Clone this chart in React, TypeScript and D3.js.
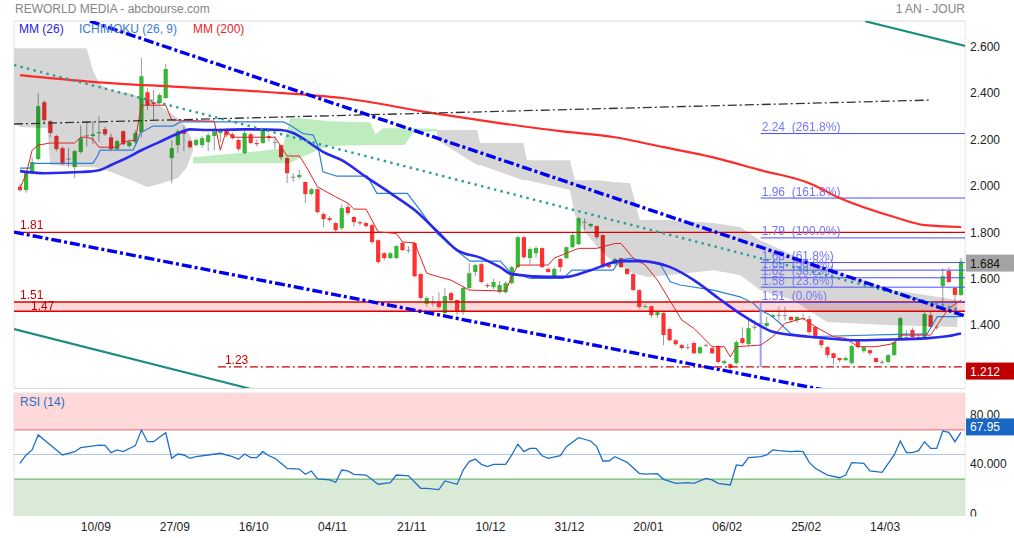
import React from "react";
import * as d3 from "d3";

const W = 1014;
const H = 538;
const PL = 14;
const PR = 965;
const PT = 21;
const PB = 388;
const RT = 393;
const RB = 516;

// daily candles: [open, high, low, close]
const ohlc: [number, number, number, number][] = [
  [2.006, 2.02, 1.985, 1.992], [1.992, 2.07, 1.98, 2.065], [2.07, 2.134, 2.06, 2.113], [2.126, 2.41, 2.12, 2.354],
  [2.371, 2.38, 2.28, 2.294], [2.289, 2.295, 2.22, 2.238], [2.225, 2.23, 2.16, 2.169], [2.173, 2.18, 2.1, 2.104],
  [2.128, 2.175, 2.09, 2.125], [2.091, 2.165, 2.044, 2.16], [2.156, 2.27, 2.15, 2.216], [2.229, 2.29, 2.18, 2.227],
  [2.225, 2.29, 2.19, 2.233], [2.238, 2.31, 2.2, 2.242], [2.255, 2.265, 2.225, 2.233], [2.22, 2.235, 2.16, 2.169],
  [2.169, 2.21, 2.165, 2.203], [2.246, 2.25, 2.185, 2.19], [2.182, 2.21, 2.175, 2.199], [2.199, 2.25, 2.19, 2.238],
  [2.242, 2.561, 2.22, 2.483], [2.414, 2.43, 2.337, 2.358], [2.371, 2.423, 2.294, 2.363], [2.367, 2.41, 2.36, 2.402],
  [2.389, 2.535, 2.385, 2.514], [2.13, 2.208, 2.022, 2.173], [2.186, 2.255, 2.152, 2.246], [2.25, 2.27, 2.16, 2.235],
  [2.203, 2.21, 2.17, 2.177], [2.186, 2.215, 2.18, 2.208], [2.186, 2.225, 2.175, 2.216], [2.199, 2.24, 2.16, 2.229],
  [2.225, 2.26, 2.164, 2.245], [2.238, 2.26, 2.2, 2.251], [2.251, 2.26, 2.22, 2.229], [2.233, 2.24, 2.21, 2.216],
  [2.208, 2.215, 2.16, 2.169], [2.152, 2.25, 2.145, 2.238], [2.233, 2.24, 2.19, 2.195], [2.195, 2.21, 2.18, 2.19],
  [2.195, 2.26, 2.19, 2.251], [2.225, 2.235, 2.2, 2.216], [2.2, 2.225, 2.17, 2.198], [2.186, 2.19, 2.12, 2.134],
  [2.13, 2.135, 2.022, 2.065], [2.05, 2.065, 2.027, 2.048], [2.048, 2.08, 2.04, 2.057], [2.027, 2.03, 1.936, 1.975],
  [1.975, 2.0, 1.97, 1.996], [1.996, 2.0, 1.89, 1.897], [1.889, 1.895, 1.833, 1.867], [1.871, 1.88, 1.855, 1.863],
  [1.85, 1.855, 1.81, 1.82], [1.828, 1.93, 1.82, 1.914], [1.919, 1.936, 1.885, 1.893], [1.876, 1.88, 1.835, 1.854],
  [1.854, 1.86, 1.84, 1.85], [1.85, 1.855, 1.83, 1.837], [1.841, 1.846, 1.76, 1.768], [1.776, 1.78, 1.675, 1.682],
  [1.72, 1.725, 1.69, 1.699], [1.699, 1.725, 1.695, 1.72], [1.699, 1.755, 1.695, 1.751], [1.764, 1.77, 1.73, 1.733],
  [1.735, 1.75, 1.72, 1.733], [1.764, 1.77, 1.615, 1.621], [1.63, 1.635, 1.52, 1.527], [1.501, 1.535, 1.49, 1.527],
  [1.509, 1.535, 1.49, 1.505], [1.509, 1.552, 1.48, 1.488], [1.462, 1.57, 1.455, 1.535], [1.548, 1.555, 1.51, 1.518],
  [1.518, 1.52, 1.455, 1.466], [1.466, 1.575, 1.455, 1.57], [1.57, 1.677, 1.565, 1.634], [1.639, 1.675, 1.62, 1.669],
  [1.673, 1.68, 1.59, 1.596], [1.583, 1.59, 1.57, 1.578], [1.574, 1.61, 1.565, 1.596], [1.552, 1.6, 1.545, 1.583],
  [1.552, 1.6, 1.545, 1.591], [1.591, 1.665, 1.585, 1.66], [1.66, 1.795, 1.655, 1.789], [1.789, 1.795, 1.695, 1.703],
  [1.699, 1.745, 1.67, 1.738], [1.72, 1.75, 1.7, 1.742], [1.742, 1.745, 1.655, 1.66], [1.652, 1.66, 1.635, 1.639],
  [1.621, 1.66, 1.615, 1.652], [1.695, 1.7, 1.64, 1.66], [1.699, 1.75, 1.695, 1.746], [1.746, 1.81, 1.74, 1.798],
  [1.759, 1.876, 1.755, 1.871], [1.856, 1.87, 1.82, 1.854], [1.837, 1.85, 1.83, 1.846], [1.837, 1.84, 1.78, 1.789],
  [1.798, 1.8, 1.655, 1.66], [1.669, 1.675, 1.655, 1.66], [1.673, 1.7, 1.665, 1.695], [1.699, 1.7, 1.655, 1.66],
  [1.652, 1.655, 1.625, 1.63], [1.63, 1.635, 1.555, 1.561], [1.561, 1.565, 1.48, 1.488], [1.488, 1.5, 1.485, 1.492],
  [1.492, 1.495, 1.44, 1.453], [1.453, 1.47, 1.44, 1.466], [1.462, 1.465, 1.324, 1.367], [1.393, 1.4, 1.34, 1.345],
  [1.345, 1.35, 1.32, 1.328], [1.324, 1.33, 1.305, 1.311], [1.316, 1.33, 1.305, 1.315], [1.333, 1.34, 1.285, 1.289],
  [1.289, 1.32, 1.285, 1.315], [1.325, 1.33, 1.315, 1.323], [1.311, 1.32, 1.285, 1.289], [1.32, 1.325, 1.245, 1.251],
  [1.246, 1.26, 1.24, 1.255], [1.242, 1.245, 1.212, 1.225], [1.246, 1.345, 1.24, 1.337], [1.354, 1.4, 1.325, 1.333],
  [1.328, 1.44, 1.32, 1.397], [1.403, 1.43, 1.39, 1.401], [1.42, 1.44, 1.41, 1.418], [1.406, 1.445, 1.4, 1.419],
  [1.445, 1.46, 1.44, 1.453], [1.455, 1.49, 1.43, 1.453], [1.454, 1.49, 1.43, 1.452], [1.445, 1.45, 1.42, 1.432],
  [1.432, 1.45, 1.42, 1.445], [1.441, 1.46, 1.43, 1.44], [1.436, 1.45, 1.37, 1.38], [1.402, 1.405, 1.35, 1.358],
  [1.345, 1.35, 1.31, 1.324], [1.315, 1.32, 1.27, 1.281], [1.289, 1.29, 1.24, 1.268], [1.268, 1.27, 1.25, 1.259],
  [1.259, 1.275, 1.255, 1.268], [1.246, 1.325, 1.24, 1.32], [1.341, 1.345, 1.31, 1.315], [1.298, 1.32, 1.29, 1.315],
  [1.302, 1.305, 1.28, 1.289], [1.268, 1.27, 1.245, 1.251], [1.252, 1.26, 1.24, 1.251], [1.251, 1.285, 1.245, 1.281],
  [1.281, 1.34, 1.275, 1.337], [1.354, 1.445, 1.35, 1.44], [1.359, 1.39, 1.35, 1.358], [1.389, 1.4, 1.35, 1.358],
  [1.359, 1.37, 1.345, 1.357], [1.358, 1.47, 1.35, 1.458], [1.453, 1.47, 1.395, 1.402], [1.403, 1.41, 1.39, 1.4],
  [1.578, 1.655, 1.49, 1.621], [1.643, 1.66, 1.59, 1.596], [1.57, 1.575, 1.51, 1.54], [1.54, 1.7, 1.535, 1.684],
];

const dateTicks: [number, string][] = [
  [12.5, "10/09"], [25.5, "27/09"], [38.5, "16/10"], [51.5, "04/11"], [64.5, "21/11"], [77.5, "10/12"],
  [90.5, "31/12"], [103.5, "20/01"], [116.5, "06/02"], [129.5, "25/02"], [142.5, "14/03"],
];
const priceTicks = [1.4, 1.6, 1.8, 2.0, 2.2, 2.4, 2.6];
const rsiTicks: [number, string][] = [[80, "80.00"], [40, "40.000"], [0, "0"]];

// indicator lines, [candle index, value]
const mm26: [number, number][] = [
  [0, 2.074], [4, 2.065], [10, 2.07], [13, 2.078], [15, 2.1], [18, 2.136], [20, 2.164], [23, 2.2], [26, 2.236],
  [28, 2.254], [31, 2.251], [37, 2.254], [43, 2.251], [45, 2.238], [47, 2.208], [50, 2.156], [53, 2.121],
  [57, 2.049], [61, 1.979], [65, 1.906], [69, 1.807], [72, 1.733], [76, 1.699], [79, 1.661], [81, 1.63],
  [87, 1.618], [90, 1.618], [94, 1.647], [99, 1.686], [102, 1.686], [107, 1.661], [111, 1.604], [115, 1.527],
  [119, 1.453], [122, 1.406], [124, 1.381], [130, 1.36], [138, 1.345], [144, 1.348], [149, 1.353], [153, 1.363],
  [155, 1.374],
];
const mm200: [number, number][] = [
  [0, 2.488], [12, 2.459], [26, 2.437], [40, 2.416], [53, 2.389], [68, 2.324], [79, 2.281], [89, 2.246],
  [98, 2.22], [106, 2.177], [114, 2.134], [122, 2.078], [130, 2.022], [135, 1.958], [144, 1.876], [149, 1.841],
  [155, 1.833],
];
const tenkan: [number, number][] = [
  [0, 2.001], [1, 2.06], [2, 2.164], [3, 2.186], [5, 2.195], [9, 2.195], [10, 2.22], [11, 2.22], [12, 2.212],
  [13, 2.177], [16, 2.177], [17, 2.2], [19, 2.208], [20, 2.358], [24, 2.358], [25, 2.294], [32, 2.289],
  [33, 2.164], [34, 2.251], [35, 2.22], [42, 2.22], [43, 2.179], [44, 2.139], [46, 2.139], [47, 2.1], [49, 2.006],
  [52, 1.963], [54, 1.936], [55, 1.91], [57, 1.91], [59, 1.812], [62, 1.805], [63, 1.769], [65, 1.764],
  [67, 1.634], [69, 1.618], [71, 1.604], [74, 1.561], [80, 1.557], [81, 1.618], [82, 1.669], [87, 1.669],
  [88, 1.699], [92, 1.741], [95, 1.741], [98, 1.762], [99, 1.762], [101, 1.699], [103, 1.669], [105, 1.604],
  [107, 1.518], [109, 1.432], [111, 1.396], [114, 1.317], [116, 1.317], [117, 1.273], [118, 1.317], [122, 1.324],
  [124, 1.36], [126, 1.418], [129, 1.439], [131, 1.403], [134, 1.36], [136, 1.353], [138, 1.317], [141, 1.317],
  [144, 1.331], [145, 1.367], [150, 1.367], [152, 1.446], [153, 1.482], [155, 1.518],
];
const kijun: [number, number][] = [
  [0, 2.087], [1.6, 2.087], [2.1, 2.107], [12, 2.107], [12.7, 2.136], [13.2, 2.164], [18.6, 2.164], [19.3, 2.2],
  [19.8, 2.238], [21.9, 2.268], [25.2, 2.268], [26.4, 2.286], [43.4, 2.286], [44.5, 2.272], [46.6, 2.236],
  [48.3, 2.229], [49.1, 2.179], [49.9, 2.071], [52.2, 2.052], [57.2, 2.052], [58.8, 1.978], [63.8, 1.978],
  [65.9, 1.906], [68.7, 1.805], [72.5, 1.719], [74.1, 1.686], [79.1, 1.686], [80.7, 1.64], [84, 1.611],
  [89.5, 1.611], [90.9, 1.647], [97.7, 1.647], [98.8, 1.69], [100.5, 1.698], [105.4, 1.677], [107.1, 1.597],
  [108.7, 1.583], [114.2, 1.561], [118.6, 1.532], [120.8, 1.504], [121.9, 1.475], [123.6, 1.453], [125.2, 1.418],
  [126.9, 1.374], [129.7, 1.36], [146.1, 1.371], [149.4, 1.371], [151.1, 1.447], [155, 1.447],
];

// ichimoku cloud, [candle index, upper span, lower span]
const cloudBear1: [number, number, number][] = [
  [-1, 2.604, 2.285], [0, 2.604, 2.264], [4.5, 2.604, 2.259], [5, 2.604, 2.1], [11, 2.604, 2.091],
  [12, 2.509, 2.091], [13, 2.453, 2.087], [15, 2.423, 2.07], [18, 2.41, 2.039], [21, 2.38, 2.005],
  [23, 2.358, 2.018], [24, 2.337, 2.027], [26, 2.302, 2.044], [27.5, 2.259, 2.091], [28.5, 2.195, 2.164],
];
const cloudBull: [number, number, number][] = [
  [28.5, 2.134, 2.108], [38, 2.156, 2.108], [43.2, 2.173, 2.108], [44.5, 2.302, 2.108], [46, 2.302, 2.13],
  [49, 2.294, 2.164], [51, 2.289, 2.182], [57.7, 2.285, 2.186], [58.5, 2.233, 2.186], [59.8, 2.259, 2.186],
  [63.4, 2.259, 2.186], [64.7, 2.259, 2.238], [68.7, 2.255, 2.246],
];
const cloudBear2: [number, number, number][] = [
  [68.7, 2.251, 2.208], [75.3, 2.251, 2.1], [75.8, 2.195, 2.1], [82.9, 2.195, 2.035], [83.5, 2.121, 2.035],
  [90.6, 2.121, 1.992], [91.4, 2.035, 1.884], [92.8, 2.035, 1.82], [95.1, 2.035, 1.746], [97.7, 2.027, 1.682],
  [100.5, 2.022, 1.639], [102.1, 1.863, 1.626], [103.3, 1.863, 1.617], [107.1, 1.863, 1.626], [114.2, 1.85, 1.647],
  [118.6, 1.833, 1.626], [121.9, 1.776, 1.561], [127.3, 1.712, 1.518], [132.9, 1.656, 1.423], [143.8, 1.561, 1.41],
  [154.4, 1.518, 1.402],
];

// drawn lines, two anchors each: [index, price]
const channelHigh: [number, number][] = [[11.53, 2.72], [155.7, 1.449]];
const channelLow: [number, number][] = [[-0.99, 1.811], [132.95, 1.128]];
const dottedTrend: [number, number][] = [[-0.99, 2.531], [154.9, 1.475]];
const tealTop: [number, number][] = [[139.2, 2.72], [155.7, 2.613]];
const tealBottom: [number, number][] = [[-0.99, 1.393], [37.9, 1.136]];
const blackTrend: [number, number][] = [[-0.99, 2.277], [149.9, 2.38]];

const resistance = 1.81;
const zone = [1.47, 1.51];
const support = 1.23;
const supportStart = 32.6;

const fibStart = 122;
const fibLow = 1.508;
const fibHigh = 1.786;
const fibRatios: [number, string][] = [
  [2.618, "2.24  (261.8%)"], [1.618, "1.96  (161.8%)"], [1, "1.79  (100.0%)"], [0.618, "1.68  (61.8%)"],
  [0.5, "1.65  (50.0%)"], [0.382, "1.62  (38.2%)"], [0.236, "1.58  (23.6%)"], [0, "1.51  (0.0%)"],
];

const rsi14: [number, number][] = [
  [0, 42.8], [1, 49.6], [2, 53.7], [3, 65.9], [5, 57.7], [7, 49.6], [9, 52.3], [10, 55.6], [13, 57.7], [14, 57.5],
  [15, 51.5], [16, 53.7], [17, 52.3], [19, 57.2], [20, 69.9], [21, 60.4], [22, 60.4], [24, 67.7], [25, 46.9],
  [26, 50.4], [27, 49.6], [28, 46.9], [29, 48.2], [31, 49.6], [33, 51], [35, 48.2], [36, 46.1], [37, 50.4],
  [38, 47.5], [39, 47.5], [40, 52.3], [41, 49], [42, 46.9], [44, 38.8], [46, 38.2], [47, 33.9], [48, 36.6],
  [49, 30.1], [51, 29.3], [52, 27.4], [53, 37.4], [54, 36.6], [55, 33.9], [57, 33.3], [59, 25.8], [61, 27.1],
  [62, 33.3], [64, 32.7], [66, 22.5], [67, 22.5], [69, 21.4], [70, 28.5], [72, 25.8], [73, 37.4], [74, 44.2],
  [75, 46.3], [76, 42], [77, 40.1], [78, 42], [80, 42], [81, 49.6], [82, 58.5], [83, 52.3], [84, 55], [85, 55],
  [86, 49], [87, 46.9], [89, 49], [90, 56.4], [92, 63.7], [94, 61], [95, 56.4], [96, 44.7], [97, 44.7], [98, 48.2],
  [100, 43.6], [102, 34.7], [103, 34.1], [105, 34.4], [106, 29.8], [108, 26.6], [110, 27.1], [111, 26.6],
  [113, 30.6], [114, 29.3], [115, 26.6], [117, 25.2], [118, 41.5], [119, 40.9], [120, 47.4], [122, 48.2],
  [123, 49.6], [124, 53.7], [125, 53.1], [127, 52.3], [128, 52.8], [129, 52.3], [130, 43.6], [131, 38.8],
  [133, 33.3], [135, 31.1], [136, 33.3], [137, 43.4], [139, 42.8], [140, 36.6], [142, 35.5], [144, 49.6],
  [145, 61], [146, 51.5], [147, 51.5], [148, 53.1], [149, 60.4], [150, 55], [151, 55], [152, 69.1], [153, 68],
  [154, 60.4], [155, 67.95],
];

const lastPrice = 1.684;
const lowPrice = 1.212;

export default function App() {
  const x = d3.scaleLinear().domain([0, 155]).range([20, 961]);
  const y = d3.scaleLinear().domain([1.139, 2.721]).range([PB, PT]);
  const yr = d3.scaleLinear().domain([0, 100]).range([RB, RT]);
  const fmt = d3.format(".3f");

  const straight = d3.line<[number, number]>().x((d) => x(d[0])).y((d) => y(d[1]));
  const smooth = d3
    .line<[number, number]>()
    .x((d) => x(d[0]))
    .y((d) => y(d[1]))
    .curve(d3.curveMonotoneX);
  const cloud = d3
    .area<[number, number, number]>()
    .x((d) => x(d[0]))
    .y0((d) => y(d[2]))
    .y1((d) => y(d[1]));
  const rsiLine = d3.line<[number, number]>().x((d) => x(d[0])).y((d) => yr(d[1]));

  const font = "'Liberation Sans', Arial, sans-serif";
  const green = "#36b836";
  const red = "#ff3030";
  const bw = 4.2;

  return (
    <svg
      width={W}
      height={H}
      style={{ position: "absolute", left: 0, top: 0, background: "#fff" }}
      fontFamily={font}
      fontSize={12}
    >
      <defs>
        <clipPath id="mainClip">
          <rect x={PL} y={PT} width={PR - PL} height={PB - PT} />
        </clipPath>
        <clipPath id="rsiAxisClip">
          <rect x={PR} y={RT} width={W - PR} height={RB - RT + 0.5} />
        </clipPath>
      </defs>

      {/* header */}
      <text x={15} y={13} fill="#858585" fontSize={12}>REWORLD MEDIA - abcbourse.com</text>
      <text x={965} y={13} fill="#858585" fontSize={12} textAnchor="end">1 AN - JOUR</text>

      {/* main panel frame */}
      <line x1={PL} x2={PR} y1={PT} y2={PT} stroke="#dcdcdc" />
      <line x1={PL} x2={PR} y1={PB + 0.5} y2={PB + 0.5} stroke="#dcdcdc" />
      <line x1={PL} x2={PL} y1={PT} y2={PB} stroke="#d0d0d0" strokeDasharray="1,1" />
      <line x1={PR} x2={PR} y1={PT} y2={PB} stroke="#d0d0d0" strokeDasharray="1,1" />

      <g clipPath="url(#mainClip)">
        {/* 1.47 - 1.51 zone */}
        <rect x={PL} width={PR - PL} y={y(zone[1])} height={y(zone[0]) - y(zone[1])} fill="#ffd9d9" />

        {/* candles */}
        {ohlc.map((d, i) => {
          const [o, h, l, c] = d;
          const cx = x(i);
          const doji = Math.abs(c - o) < 0.004;
          const col = doji ? "#9a9a9a" : c > o ? green : red;
          const top = y(Math.max(o, c));
          const hh = Math.max(1.2, Math.abs(y(o) - y(c)));
          return (
            <g key={i}>
              <line x1={cx} x2={cx} y1={y(h)} y2={y(l)} stroke="#9a9a9a" strokeWidth={1} />
              <rect x={cx - bw / 2} y={top} width={bw} height={hh} fill={col} />
            </g>
          );
        })}

        {/* ichimoku cloud */}
        <g style={{ mixBlendMode: "multiply" }}>
          <path d={cloud(cloudBear1) ?? ""} fill="#d6d6d6" />
          <path d={cloud(cloudBull) ?? ""} fill="#bfecbf" />
          <path d={cloud(cloudBear2) ?? ""} fill="#d6d6d6" />
        </g>

        {/* level lines */}
        <line x1={PL} x2={PR} y1={y(resistance)} y2={y(resistance)} stroke="#dd0000" strokeWidth={1.4} />
        <line x1={PL} x2={PR} y1={y(zone[1])} y2={y(zone[1])} stroke="#dd0000" strokeWidth={1.4} />
        <line x1={PL} x2={PR} y1={y(zone[0])} y2={y(zone[0])} stroke="#dd0000" strokeWidth={1.4} />
        <line
          x1={x(supportStart)}
          x2={PR}
          y1={y(support)}
          y2={y(support)}
          stroke="#cc0000"
          strokeWidth={1.3}
          strokeDasharray="8,3,2,3"
        />

        {/* fibonacci */}
        <line
          x1={x(fibStart)}
          x2={x(fibStart)}
          y1={y(fibLow)}
          y2={y(support)}
          stroke="#9d9dff"
          strokeWidth={2}
        />
        {fibRatios.map(([r, lab]) => {
          const v = fibLow + (fibHigh - fibLow) * r;
          return (
            <g key={lab}>
              <line x1={x(fibStart)} x2={PR} y1={y(v)} y2={y(v)} stroke="#4d4dff" strokeWidth={1} />
              <text x={x(fibStart) + 1} y={y(v) - 2.5} fill="#7474ff" fontSize={12} style={{ whiteSpace: "pre" }}>
                {lab}
              </text>
            </g>
          );
        })}

        {/* moving averages and ichimoku lines */}
        <path d={smooth(mm200) ?? ""} fill="none" stroke="#ff2a2a" strokeWidth={2.2} />
        <path d={straight(kijun) ?? ""} fill="none" stroke="#2f7fd8" strokeWidth={1.2} />
        <path d={straight(tenkan) ?? ""} fill="none" stroke="#e02222" strokeWidth={1} />
        <path d={smooth(mm26) ?? ""} fill="none" stroke="#2828ee" strokeWidth={2.6} />

        {/* drawn trend lines */}
        <path d={straight(blackTrend) ?? ""} fill="none" stroke="#333" strokeWidth={1.3} strokeDasharray="9,3,2,3" />
        <path
          d={straight(dottedTrend) ?? ""}
          fill="none"
          stroke="#2a9d95"
          strokeWidth={2.4}
          strokeDasharray="2.4,4.3"
        />
        <path d={straight(tealTop) ?? ""} fill="none" stroke="#1d8c80" strokeWidth={2.2} />
        <path d={straight(tealBottom) ?? ""} fill="none" stroke="#1d8c80" strokeWidth={2.2} />
        <path
          d={straight(channelHigh) ?? ""}
          fill="none"
          stroke="#0000ee"
          strokeWidth={3.4}
          strokeDasharray="10,3,3,3"
        />
        <path
          d={straight(channelLow) ?? ""}
          fill="none"
          stroke="#0000ee"
          strokeWidth={3.4}
          strokeDasharray="10,3,3,3"
        />

        {/* level labels */}
        <text x={20} y={y(resistance) - 3} fill="#cc0000">1.81</text>
        <text x={20} y={y(zone[1]) - 3} fill="#cc0000">1.51</text>
        <text x={31} y={y(zone[0]) - 1} fill="#cc0000">1.47</text>
        <text x={x(supportStart) + 7} y={y(support) - 3} fill="#cc0000">1.23</text>
      </g>

      {/* legend */}
      <text x={19} y={33} fill="#2222e6">MM (26)</text>
      <text x={79} y={33} fill="#3a7bd2">ICHIMOKU (26, 9)</text>
      <text x={193} y={33} fill="#ee2222">MM (200)</text>

      {/* price axis */}
      {priceTicks.map((v) => (
        <text key={v} x={970} y={y(v) + 2} fill="#222">{fmt(v)}</text>
      ))}
      <rect x={966} y={y(lastPrice) - 7} width={48} height={17} fill="#a3a3a3" />
      <text x={970} y={y(lastPrice) + 6} fill="#111">{fmt(lastPrice)}</text>
      <rect x={966} y={y(lowPrice) - 8.5} width={48} height={17} fill="#c00000" />
      <text x={970} y={y(lowPrice) + 5} fill="#fff">{fmt(lowPrice)}</text>

      {/* RSI panel */}
      <rect x={PL} y={RT} width={PR - PL} height={yr(70) - RT} fill="#ffd9d9" />
      <rect x={PL} y={yr(30)} width={PR - PL} height={RB - yr(30)} fill="#d9ebd6" />
      <line x1={PL} x2={PR} y1={yr(70)} y2={yr(70)} stroke="#ee6666" strokeWidth={1} />
      <line x1={PL} x2={PR} y1={yr(50)} y2={yr(50)} stroke="#a9c6f0" strokeWidth={1} />
      <line x1={PL} x2={PR} y1={yr(30)} y2={yr(30)} stroke="#55aa55" strokeWidth={1} />
      <line x1={PL} x2={PR} y1={RT} y2={RT} stroke="#e4e4e4" />
      <line x1={PL} x2={PL} y1={RT} y2={RB} stroke="#d0d0d0" strokeDasharray="1,1" />
      <line x1={PR} x2={PR} y1={RT} y2={RB} stroke="#d0d0d0" strokeDasharray="1,1" />
      <path d={rsiLine(rsi14) ?? ""} fill="none" stroke="#1f6fc8" strokeWidth={1.3} />
      <text x={20} y={406} fill="#1f6fc6">RSI (14)</text>

      <g clipPath="url(#rsiAxisClip)">
        {rsiTicks.map(([v, lab]) => (
          <text key={lab} x={970} y={yr(v) + 1.5} fill="#222">{lab}</text>
        ))}
      </g>
      <rect x={966} y={yr(67.95) - 14} width={48} height={17} fill="#1a66c4" />
      <text x={970} y={yr(67.95) - 1} fill="#fff">67.95</text>

      {/* date axis */}
      {dateTicks.map(([i, lab]) => (
        <text key={lab} x={x(i)} y={531} textAnchor="middle" fill="#222">{lab}</text>
      ))}
    </svg>
  );
}
